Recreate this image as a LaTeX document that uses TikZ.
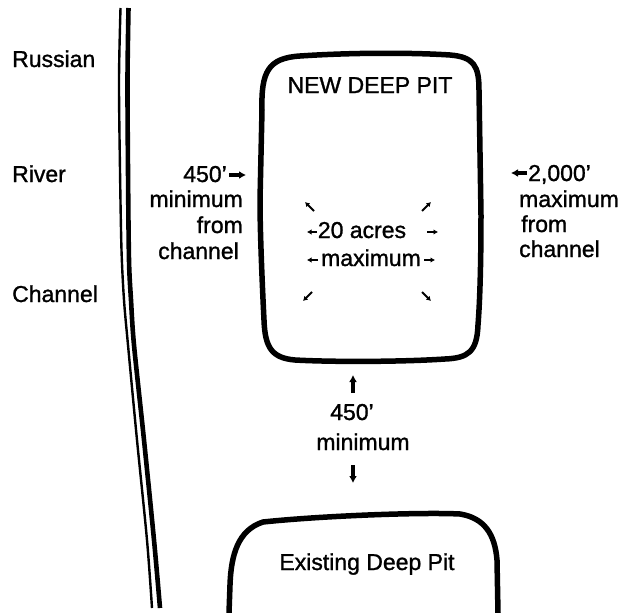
\documentclass[tikz,border=0pt]{standalone}
\usepackage{fontspec}
\setmainfont{Liberation Sans}[FakeBold=1.2]
\usetikzlibrary{arrows.meta}
\begin{document}
\begin{tikzpicture}[x=1pt,y=-1pt,
  lbl/.style={font=\fontsize{23}{27}\selectfont, inner sep=0pt},
  pit/.style={line width=5.5pt, line join=round, line cap=round},
  bigarrow/.style={line width=3.4pt, -{Latex[length=7pt,width=8pt]}},
  tinyarrow/.style={line width=1.9pt, -{Latex[length=4.5pt,width=5.5pt]}},
  bankthin/.style={line width=2.4pt},
  bankthick/.style={line width=4.6pt}]
\useasboundingbox (0,0) rectangle (625,613);

% river channel banks
\draw[bankthin] plot[smooth] coordinates {(120.5,8) (119,80) (120,170) (121.5,250) (124,300) (128,345) (137,440) (147,540) (152,608)};
\draw[bankthick] plot[smooth] coordinates {(128.5,8) (127.5,80) (128,170) (129,260) (131,300) (134,345) (144,440) (154,540) (160,608)};

% left labels
\node[lbl, anchor=base west] (russian) at (12,67) {Russian};
\node[lbl, anchor=base west] (river) at (12,182) {River};
\node[lbl, anchor=base west] (channelL) at (12,302) {Channel};

% new deep pit outline
\draw[pit] (262,110) .. controls (261,72) and (268,58) .. (300,56)
  .. controls (360,52) and (420,53) .. (450,55)
  .. controls (474,57) and (479,66) .. (479,90)
  -- (481,215)
  .. controls (481,260) and (480,300) .. (478,325)
  .. controls (477,352) and (468,358) .. (445,359)
  .. controls (400,362) and (330,362) .. (295,360)
  .. controls (272,358) and (265,348) .. (264,320)
  .. controls (262,280) and (260,230) .. (260,200) -- cycle;
\node[lbl, anchor=base] (newpit) at (370,93) {NEW DEEP PIT};

% existing deep pit outline
\draw[pit] (229,613) -- (230,585) .. controls (231,555) and (238,530) .. (263,522)
  .. controls (320,516) and (420,512) .. (460,514)
  .. controls (485,518) and (495,535) .. (497,560) -- (498,613);
\node[lbl, anchor=base] (oldpit) at (367,570) {Existing Deep Pit};

% left distance group
\node[lbl, anchor=base east] (dist450L) at (227,182) {450'};
\node[lbl, anchor=base east] (minimumL) at (243,207) {minimum};
\node[lbl, anchor=base east] (fromL) at (243,233) {from};
\node[lbl, anchor=base east] (chanL) at (239,259) {channel};
\coordinate (aL0) at (229,175);
\coordinate (aL) at (246,175);
\draw[bigarrow] (aL0) -- (aL);

% right distance group
\node[lbl, anchor=base west] (dist2000) at (528,181) {2,000'};
\node[lbl, anchor=base west] (maxR) at (519,207) {maximum};
\node[lbl, anchor=base west] (fromR) at (521,232) {from};
\node[lbl, anchor=base west] (chanR) at (519,257) {channel};
\coordinate (aR0) at (527,173);
\coordinate (aR) at (511,173);
\draw[bigarrow] (aR0) -- (aR);

% area in the middle
\node[lbl, anchor=base] (acres) at (362,238) {20 acres};
\node[lbl, anchor=base] (maxC) at (371,266) {maximum};
\coordinate (c1a) at (317,232); \coordinate (c1b) at (307,232);
\coordinate (c2a) at (427,232); \coordinate (c2b) at (438,232);
\coordinate (c3a) at (318,260); \coordinate (c3b) at (307,260);
\coordinate (c4a) at (424,260); \coordinate (c4b) at (435,260);
\draw[tinyarrow] (c1a) -- (c1b);
\draw[tinyarrow] (c2a) -- (c2b);
\draw[tinyarrow] (c3a) -- (c3b);
\draw[tinyarrow] (c4a) -- (c4b);
\coordinate (d1a) at (314,211); \coordinate (d1b) at (305,202);
\coordinate (d2a) at (422,211); \coordinate (d2b) at (431,202);
\coordinate (d3a) at (312,292); \coordinate (d3b) at (303,301);
\coordinate (d4a) at (422,292); \coordinate (d4b) at (431,301);
\draw[tinyarrow] (d1a) -- (d1b);
\draw[tinyarrow] (d2a) -- (d2b);
\draw[tinyarrow] (d3a) -- (d3b);
\draw[tinyarrow] (d4a) -- (d4b);

% distance between pits
\node[lbl, anchor=base] (dist450B) at (352,420) {450'};
\node[lbl, anchor=base] (minB) at (363,450) {minimum};
\coordinate (up0) at (353,393);
\coordinate (up) at (353,375);
\coordinate (down0) at (353,465);
\coordinate (down) at (353,483);
\draw[bigarrow] (up0) -- (up);
\draw[bigarrow] (down0) -- (down);
\end{tikzpicture}
\end{document}
